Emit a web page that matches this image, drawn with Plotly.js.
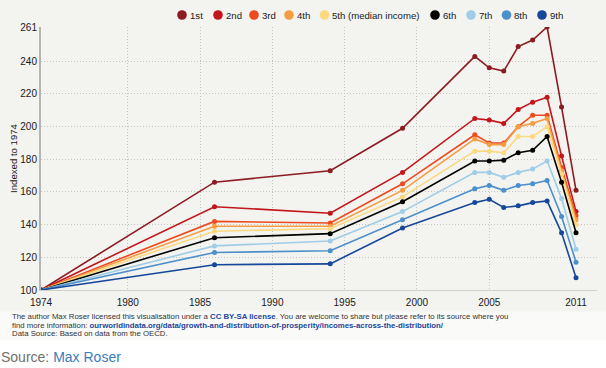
<!DOCTYPE html>
<html><head><meta charset="utf-8">
<script src="https://cdn.plot.ly/plotly-3.0.1.min.js"></script>
<style>html,body{margin:0;padding:0;background:#fff;}#chart{width:606px;height:368px;}</style>
</head><body><div id="chart"></div>
<script>
// ---- data ----
const years = [1974, 1986, 1994, 1999, 2004, 2005, 2006, 2007, 2008, 2009, 2010, 2011];
const seriesNames = ["1st", "2nd", "3rd", "4th", "5th (median income)", "6th", "7th", "8th", "9th"];
const decile1 = [100, 166, 173, 199, 243, 236, 234, 249, 253, 261, 212, 161];
const decile2 = [100, 151, 147, 172, 205, 204, 202, 210.5, 215, 218, 182, 148];
const decile3 = [100, 142, 141, 165, 195, 190, 190, 200, 207, 207, 175, 145.5];
const decile4 = [100, 139, 139, 161, 192.5, 189, 189, 200, 202, 205, 173, 143];
const decile5 = [100, 136, 137.5, 157, 185, 185, 184, 194, 194, 200, 171, 140];
const decile6 = [100, 132, 134.5, 154, 179, 179, 179.5, 184, 185.5, 194, 166, 135];
const decile7 = [100, 127, 130, 148, 172, 172, 169, 172, 174, 179, 156, 125];
const decile8 = [100, 123, 124, 143, 162, 164, 161, 164, 165, 167, 145, 117];
const decile9 = [100, 115.5, 116, 138, 153.5, 155.5, 150.5, 151.5, 153.5, 154.5, 135, 107.5];
const yTickVals = [100, 120, 140, 160, 180, 200, 220, 240, 261];
const xTickVals = [1974, 1980, 1985, 1990, 1995, 2000, 2005, 2011];
const xGridVals = [1980, 1985, 1990, 1995, 2000, 2005];

// ---- styles ----
const allSeries = [decile1, decile2, decile3, decile4, decile5, decile6, decile7, decile8, decile9];
const colors = ["#8c1b22", "#c2161c", "#ec4a1f", "#f59d43", "#fbd981", "#000000", "#9fcde6", "#4b8fcb", "#17479a"];
const legendMarkerX = [182, 218, 254, 289, 324.5, 435, 471, 506.5, 542]; // px
const legendTextX = [187.5, 223.5, 259.5, 294.5, 330, 440.5, 476.5, 512, 547.5]; // px

const W = 606, H = 368, ML = 41, MR = 9, MT = 27, MB = 78;
const PW = W - ML - MR, PH = H - MT - MB;
const px = X => (X - ML) / PW;
const py = Y => (H - MB - Y) / PH;

const traces = allSeries.map((vals, i) => ({
  type: 'scatter', mode: 'lines+markers', name: seriesNames[i],
  x: years, y: vals,
  line: {color: colors[i], width: 1.6},
  marker: {color: colors[i], size: 5},
  showlegend: false, hoverinfo: 'skip'
}));

const shapes = [
  {type: 'rect', xref: 'paper', yref: 'paper', x0: px(0), x1: px(606), y0: py(339.5), y1: py(311.5),
   fillcolor: '#fafaf9', line: {width: 0}, layer: 'below'},
  {type: 'rect', xref: 'paper', yref: 'paper', x0: px(0), x1: px(606), y0: py(368), y1: py(339.5),
   fillcolor: '#ffffff', line: {width: 0}, layer: 'below'}
];
const annotations = [];
seriesNames.forEach((n, i) => {
  shapes.push({type: 'circle', xref: 'paper', yref: 'paper', xsizemode: 'pixel', ysizemode: 'pixel',
    xanchor: px(legendMarkerX[i]), yanchor: py(15), x0: -4.8, x1: 4.8, y0: -4.8, y1: 4.8,
    fillcolor: colors[i], line: {width: 0}});
  annotations.push({xref: 'paper', yref: 'paper', x: px(legendTextX[i]), y: py(15.5),
    xanchor: 'left', yanchor: 'middle', showarrow: false, text: n,
    font: {family: 'Arial, Liberation Sans, sans-serif', size: 9.6, color: '#222'}});
});
const footFont = {family: 'Arial, Liberation Sans, sans-serif', size: 7.8, color: '#333'};
const link = t => '<span style="color:#23459a"><b>' + t + '</b></span>';
[
  ['The author Max Roser licensed this visualisation under a ' + link('CC BY-SA license') + '. You are welcome to share but please refer to its source where you', 316.5],
  ['find more information: ' + link('ourworldindata.org/data/growth-and-distribution-of-prosperity/incomes-across-the-distribution/'), 325],
  ['Data Source: Based on data from the OECD.', 333.5]
].forEach(([t, y]) => annotations.push({xref: 'paper', yref: 'paper', x: px(10), y: py(y),
  xanchor: 'left', yanchor: 'middle', showarrow: false, text: t, font: footFont}));
annotations.push({xref: 'paper', yref: 'paper', x: px(-1), y: py(356.5), xanchor: 'left', yanchor: 'middle',
  showarrow: false, text: 'Source: <span style="color:#3d7bbd">Max Roser</span>',
  font: {family: 'Arial, Liberation Sans, sans-serif', size: 14, color: '#707070'}});

const layout = {
  width: W, height: H,
  margin: {l: ML, r: MR, t: MT, b: MB},
  paper_bgcolor: '#f3f3f0', plot_bgcolor: '#f3f3f0',
  showlegend: false,
  font: {family: 'Arial, Liberation Sans, sans-serif', color: '#222'},
  xaxis: {
    range: [1974, 2012.45], tickmode: 'array', tickvals: xTickVals, ticktext: xTickVals.map(String),
    showgrid: false, zeroline: false, showline: true, linecolor: '#d0d0cc', linewidth: 1,
    ticks: '', ticklabelstandoff: 3, tickfont: {size: 10, color: '#1a1a1a'},
    minor: {tickmode: 'array', tickvals: xGridVals, showgrid: true, gridcolor: '#c4c4c0', griddash: '1px,2px', gridwidth: 1, ticks: ''}
  },
  yaxis: {
    range: [100, 261], tickmode: 'array', tickvals: yTickVals, ticktext: yTickVals.map(String),
    showgrid: true, gridcolor: '#c4c4c0', griddash: '1px,2px', gridwidth: 1,
    zeroline: false, showline: true, linecolor: '#b5b5b2', linewidth: 2,
    ticks: '', tickfont: {size: 10, color: '#1a1a1a'},
    title: {text: 'Indexed to 1974', font: {size: 9.6, color: '#1a1a1a'}, standoff: 1}
  },
  shapes: shapes,
  annotations: annotations
};
Plotly.newPlot('chart', traces, layout, {staticPlot: true, displayModeBar: false});
</script>
</body></html>
